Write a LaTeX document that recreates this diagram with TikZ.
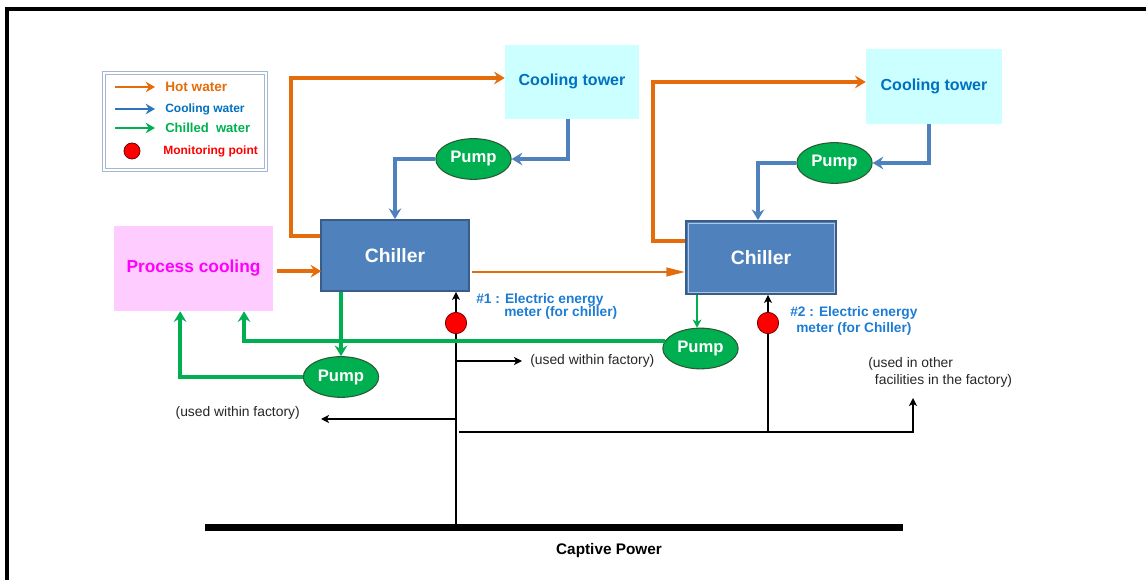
\documentclass[tikz,border=0pt]{standalone}
\usepackage{fontspec}
\setmainfont{Liberation Sans}
\usetikzlibrary{arrows.meta,shapes.geometric}
\definecolor{hot}{HTML}{E46C0A}
\definecolor{coolc}{HTML}{4F81BD}
\definecolor{chill}{HTML}{00B050}
\definecolor{chfill}{HTML}{4F81BD}
\definecolor{chdraw}{HTML}{385D8A}
\definecolor{ctfill}{HTML}{CCFFFF}
\definecolor{pcfill}{HTML}{FFCCFF}
\definecolor{txtblue}{HTML}{0070C0}
\definecolor{meterblue}{HTML}{1C7CD5}
\definecolor{magentac}{HTML}{FF00FF}
\definecolor{pumpdraw}{HTML}{2A5A34}
\definecolor{lgborder}{HTML}{A6B6CE}
\definecolor{lgblue}{HTML}{2E75C0}
\tikzset{
  every node/.style={inner sep=0pt},
  tower/.style={rectangle, fill=ctfill, text=txtblue, font=\bfseries\fontsize{12}{14}\selectfont},
  chiller/.style={rectangle, fill=chfill, draw=chdraw, line width=1.4pt, text=white, font=\bfseries\fontsize{14.5}{17}\selectfont},
  proc/.style={rectangle, fill=pcfill, text=magentac, font=\bfseries\fontsize{13}{15}\selectfont},
  pump/.style={ellipse, fill=chill, draw=pumpdraw, line width=0.8pt, text=white, font=\bfseries\fontsize{12.5}{14}\selectfont, minimum width=56.5pt, minimum height=30.5pt},
  mpoint/.style={circle, fill=red, draw=red!45!black, line width=0.6pt, minimum size=16pt},
  thicktip/.style={-{Stealth[length=8pt,width=9.5pt,inset=2.8pt]}},
  hotline/.style={draw=hot, line width=2.5pt, thicktip},
  coolline/.style={draw=coolc, line width=2.4pt, thicktip},
  chillline/.style={draw=chill, line width=2.6pt, thicktip},
  legtip/.style={line width=2.2pt, -{Stealth[length=7pt,width=8pt,inset=2.4pt]}},
  blk/.style={draw=black, line width=1.5pt, -{Stealth[length=6pt,width=6pt,inset=1.6pt]}},
  note/.style={font=\fontsize{10.4}{12.75}\selectfont, text=black!85},
  meter/.style={font=\bfseries\fontsize{10.3}{9.8}\selectfont, text=meterblue, align=left},
}
\begin{document}
\begin{tikzpicture}[x=0.75pt,y=-0.75pt]
\useasboundingbox (0,0) rectangle (1146,580);
% frame
\draw[line width=2.3pt] (7,582) -- (7,9) -- (1148,9);

% legend
\node[rectangle, draw=lgborder, double=white, line width=0.7pt, double distance=1.2pt, minimum width=121.5pt, minimum height=72.75pt] (legend) at (185,121.5) {};
\coordinate (la1) at (115,87);
\coordinate (la2) at (115,109);
\coordinate (la3) at (115,128);
\draw[draw=hot, legtip] (la1) -- ++(40,0);
\draw[draw=lgblue, legtip] (la2) -- ++(40,0);
\draw[draw=chill, legtip] (la3) -- ++(40,0);
\node[anchor=west, text=hot, font=\bfseries\fontsize{10.2}{12}\selectfont] (lt1) at (165,87) {Hot water};
\node[anchor=west, text=txtblue, font=\bfseries\fontsize{9}{11}\selectfont] (lt2) at (165,109) {Cooling water};
\node[anchor=west, text=chill, font=\bfseries\fontsize{9.8}{11}\selectfont] (lt3) at (165,128) {Chilled\hspace{0.55em}water};
\node[mpoint, minimum size=12pt] (lmp) at (132,151) {};
\node[anchor=west, text=red, font=\bfseries\fontsize{9}{11}\selectfont] (lt4) at (163,151) {Monitoring point};

% main boxes
\node[tower, minimum width=100.5pt, minimum height=55.5pt] (ct1) at (572,82) {\raisebox{3pt}{Cooling tower}};
\node[tower, minimum width=102pt, minimum height=56.25pt] (ct2) at (934,86.5) {\raisebox{3pt}{Cooling tower}};
\node[chiller, minimum width=111pt, minimum height=53.25pt] (ch1) at (395,255.5) {\raisebox{-2.5pt}{Chiller}};
\node[chiller, minimum width=112.5pt, minimum height=54.75pt] (ch2) at (761,257.5) {\raisebox{-1pt}{Chiller}};
\draw[white!55!chfill, line width=0.6pt] ([xshift=2.2pt,yshift=-2.2pt]ch2.north west) rectangle ([xshift=-2.2pt,yshift=2.2pt]ch2.south east);
\node[proc, minimum width=119.25pt, minimum height=63.75pt] (pc) at (193.5,268.5) {Process cooling};

\node[pump] (p1) at (473.5,159) {Pump};
\node[pump] (p2) at (834.5,163) {Pump};
\node[pump] (p3) at (341,377) {Pump};
\node[pump] (p4) at (700.5,348.5) {Pump};

% hot water
\draw[hotline] ([yshift=14.6pt]ch1.west) -- ++(-29,0) |- ([yshift=3pt]ct1.west);
\draw[hotline] ([yshift=12.4pt]ch2.west) -- ++(-32,0) |- ([yshift=3.4pt]ct2.west);
\draw[hotline] ([xshift=3pt,yshift=-2pt]pc.east) -- ++(44,0);
\coordinate (h1) at (472,272);
\draw[draw=hot, line width=1.6pt, -{Triangle[length=14pt,width=6.5pt]}] (h1) -- (h1 -| ch2.west);

% cooling water
\draw[coolline] ([xshift=-3pt]ct1.south) |- (p1.east);
\draw[coolline] (p1.west) -| (ch1.north);
\draw[coolline] ([xshift=-3.75pt]ct2.south) |- (p2.east);
\draw[coolline] (p2.west) -| ([xshift=-2.25pt]ch2.north);

% electric power
\node[fill=black, minimum width=523.5pt, minimum height=5.4pt] (bar) at (554,527.5) {};
\node[font=\bfseries\fontsize{11.5}{13}\selectfont] (cap) at (609,551) {Captive Power};
\coordinate (mp1) at (456,323);
\coordinate (mp2) at (768,323);
\node[note, anchor=west] (u1) at (530,361) {(used within factory)};
\node[note, anchor=east] (u2) at (300,413) {(used within factory)};
\node[note, anchor=west, align=left] (u3) at (868,372.5) {(used in other\\\hspace*{5pt}facilities in the factory)};
\coordinate (b2) at (456,419);
\coordinate (j1) at (459,432);
\coordinate (j2) at (913,398);
\draw[blk] (bar.north -| mp1) -- (mp1 |- ch1.south);
\draw[blk] (mp1 |- u1.west) -- ([xshift=-6pt]u1.west);
\draw[blk] (b2) -- ++(-135,0);
\draw[blk] (j1) -| (j2);
\draw[blk] (mp2 |- j1) -- (mp2 |- ch2.south);
\node[mpoint] (m1) at (mp1) {};
\node[mpoint] (m2) at (mp2) {};

% chilled water
\draw[chillline] (p3.north |- ch1.south) -- (p3.north);
\draw[chillline] (p3.west) -| ([xshift=-10pt]pc.south);
\draw[chillline] (p4.168) -| ([xshift=37.9pt]pc.south);
\draw[draw=chill, line width=1.7pt, -{Stealth[length=6pt,width=6.5pt,inset=1.6pt]}] ([xshift=-2.6pt]p4.north |- ch2.south) -- ([xshift=-2.6pt]p4.north);

% meter labels
\node[meter, anchor=west] (l1) at (476,306.5) {\#1 : Electric energy\\\hspace*{21pt}meter (for chiller)};
\node[meter, anchor=west, font=\bfseries\fontsize{10.3}{12}\selectfont] (l2) at (790,321) {\#2 : Electric energy\\\hspace*{4.5pt}meter (for Chiller)};
\end{tikzpicture}
\end{document}
